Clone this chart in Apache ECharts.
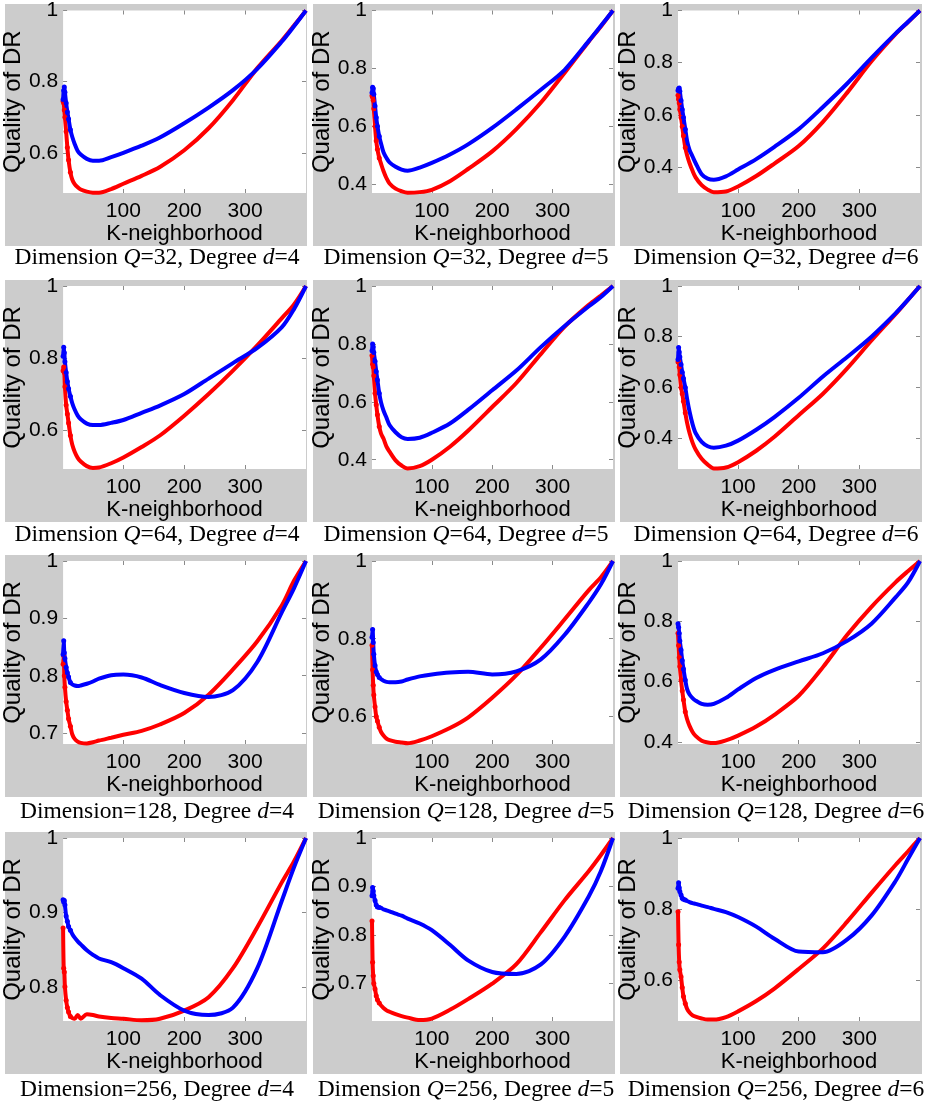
<!DOCTYPE html>
<html><head><meta charset="utf-8">
<script src="https://cdn.jsdelivr.net/npm/echarts@6/dist/echarts.min.js"></script>
<style>html,body{margin:0;padding:0;background:#fff}#c{width:936px;height:1103px}</style>
</head><body><div id="c"></div>
<script>
// K-neighborhood sample positions
const K = [1,2,3,4,6,8,10,13,16,20,25,30,40,50,60,80,100,130,160,200,240,280,320,360,380,400];

// Row 1: Q=32
const q32d4Red  = [0.745,0.74,0.72,0.70,0.66,0.615,0.58,0.545,0.525,0.512,0.503,0.497,0.491,0.488,0.488,0.498,0.513,0.535,0.56,0.607,0.669,0.748,0.838,0.915,0.957,1.0];
const q32d4Blue = [0.75,0.775,0.785,0.77,0.74,0.715,0.695,0.665,0.645,0.625,0.605,0.595,0.583,0.578,0.578,0.588,0.60,0.62,0.643,0.683,0.727,0.776,0.836,0.912,0.955,1.0];
const q32d5Red  = [0.705,0.70,0.69,0.66,0.60,0.55,0.52,0.49,0.47,0.445,0.42,0.402,0.384,0.375,0.37,0.372,0.38,0.41,0.452,0.513,0.59,0.68,0.785,0.893,0.945,1.0];
const q32d5Blue = [0.716,0.735,0.73,0.71,0.67,0.63,0.60,0.565,0.54,0.51,0.49,0.475,0.46,0.45,0.446,0.457,0.473,0.502,0.537,0.594,0.658,0.725,0.795,0.895,0.947,1.0];
const q32d6Red  = [0.675,0.66,0.645,0.62,0.59,0.555,0.52,0.475,0.445,0.415,0.385,0.36,0.33,0.313,0.303,0.306,0.325,0.365,0.413,0.48,0.573,0.685,0.805,0.91,0.955,1.0];
const q32d6Blue = [0.693,0.70,0.703,0.69,0.655,0.62,0.59,0.545,0.50,0.465,0.44,0.415,0.372,0.355,0.351,0.364,0.39,0.43,0.477,0.545,0.63,0.72,0.818,0.912,0.956,1.0];
// Row 2: Q=64
const q64d4Red  = [0.765,0.775,0.76,0.72,0.67,0.645,0.62,0.585,0.56,0.54,0.523,0.513,0.50,0.495,0.496,0.508,0.524,0.553,0.585,0.64,0.70,0.765,0.835,0.91,0.948,1.0];
const q64d4Blue = [0.805,0.83,0.815,0.79,0.76,0.735,0.715,0.694,0.675,0.657,0.64,0.63,0.618,0.614,0.614,0.62,0.628,0.648,0.668,0.70,0.743,0.786,0.828,0.885,0.935,1.0];
const q64d5Red  = [0.76,0.73,0.72,0.69,0.63,0.59,0.555,0.515,0.49,0.473,0.445,0.428,0.398,0.38,0.37,0.378,0.40,0.445,0.50,0.582,0.665,0.764,0.86,0.935,0.967,1.0];
const q64d5Blue = [0.776,0.80,0.79,0.77,0.74,0.705,0.675,0.63,0.598,0.57,0.545,0.52,0.495,0.478,0.472,0.476,0.493,0.525,0.572,0.64,0.708,0.788,0.862,0.93,0.962,1.0];
const q64d6Red  = [0.70,0.705,0.68,0.65,0.60,0.575,0.545,0.50,0.46,0.42,0.382,0.355,0.318,0.295,0.28,0.284,0.305,0.35,0.405,0.49,0.575,0.675,0.785,0.89,0.945,1.0];
const q64d6Blue = [0.71,0.757,0.74,0.72,0.69,0.66,0.635,0.60,0.555,0.505,0.455,0.42,0.385,0.368,0.362,0.37,0.39,0.433,0.483,0.559,0.643,0.72,0.80,0.893,0.945,1.0];
// Row 3: 128
const q128d4Red  = [0.82,0.835,0.80,0.78,0.755,0.74,0.725,0.712,0.698,0.69,0.685,0.683,0.682,0.684,0.687,0.692,0.697,0.704,0.715,0.735,0.767,0.811,0.86,0.922,0.965,1.0];
const q128d4Blue = [0.837,0.861,0.84,0.83,0.815,0.805,0.798,0.788,0.785,0.783,0.782,0.783,0.786,0.79,0.795,0.801,0.802,0.797,0.784,0.77,0.763,0.775,0.824,0.91,0.952,1.0];
const q128d5Red  = [0.783,0.72,0.68,0.655,0.625,0.60,0.588,0.572,0.56,0.551,0.543,0.539,0.535,0.533,0.531,0.538,0.549,0.57,0.597,0.648,0.706,0.776,0.85,0.925,0.958,1.0];
const q128d5Blue = [0.804,0.824,0.79,0.76,0.731,0.715,0.708,0.70,0.696,0.692,0.689,0.688,0.688,0.69,0.695,0.703,0.708,0.713,0.715,0.708,0.716,0.746,0.81,0.893,0.94,1.0];
const q128d6Red  = [0.76,0.72,0.68,0.65,0.605,0.57,0.54,0.50,0.475,0.453,0.433,0.42,0.404,0.398,0.396,0.405,0.421,0.451,0.49,0.553,0.648,0.755,0.848,0.93,0.966,1.0];
const q128d6Blue = [0.792,0.78,0.76,0.735,0.705,0.67,0.642,0.605,0.575,0.557,0.545,0.537,0.526,0.523,0.526,0.546,0.574,0.612,0.639,0.667,0.694,0.735,0.792,0.88,0.928,1.0];
// Row 4: 256
const q256d4Red  = [0.879,0.825,0.82,0.80,0.782,0.772,0.766,0.76,0.758,0.757,0.762,0.757,0.763,0.762,0.76,0.758,0.757,0.755,0.757,0.768,0.786,0.825,0.88,0.94,0.968,1.0];
const q256d4Blue = [0.917,0.914,0.916,0.91,0.895,0.888,0.881,0.876,0.871,0.866,0.861,0.857,0.849,0.843,0.838,0.833,0.825,0.811,0.789,0.768,0.762,0.772,0.825,0.915,0.96,1.0];
const q256d5Red  = [0.829,0.744,0.716,0.70,0.689,0.675,0.667,0.66,0.655,0.65,0.645,0.642,0.637,0.633,0.63,0.625,0.628,0.646,0.668,0.70,0.74,0.805,0.872,0.932,0.965,1.0];
const q256d5Blue = [0.881,0.898,0.891,0.881,0.871,0.862,0.858,0.857,0.856,0.853,0.851,0.849,0.844,0.84,0.834,0.824,0.81,0.78,0.748,0.724,0.72,0.739,0.797,0.88,0.932,1.0];
const q256d6Red  = [0.793,0.70,0.652,0.63,0.61,0.58,0.555,0.535,0.52,0.51,0.502,0.498,0.493,0.49,0.49,0.497,0.513,0.542,0.577,0.632,0.69,0.765,0.846,0.925,0.962,1.0];
const q256d6Blue = [0.859,0.874,0.86,0.85,0.84,0.831,0.828,0.826,0.823,0.82,0.817,0.815,0.81,0.806,0.801,0.792,0.778,0.751,0.717,0.681,0.679,0.715,0.782,0.88,0.94,1.0];

// Axis ranges and ticks
const yMins = [0.487,0.369,0.30, 0.492,0.368,0.278, 0.681,0.529,0.393, 0.754,0.623,0.486];
const yTicks = [
  [0.6,0.8,1],[0.4,0.6,0.8,1],[0.4,0.6,0.8,1],
  [0.6,0.8,1],[0.4,0.6,0.8,1],[0.4,0.6,0.8,1],
  [0.7,0.8,0.9,1],[0.6,0.8,1],[0.4,0.6,0.8,1],
  [0.8,0.9,1],[0.7,0.8,0.9,1],[0.6,0.8,1]
];
const xTicks = [100,200,300];
const xName = 'K-neighborhood';
const yName = 'Quality of DR';
const captions = [
  'Dimension {i|Q}=32, Degree {i|d}=4','Dimension {i|Q}=32, Degree {i|d}=5','Dimension {i|Q}=32, Degree {i|d}=6',
  'Dimension {i|Q}=64, Degree {i|d}=4','Dimension {i|Q}=64, Degree {i|d}=5','Dimension {i|Q}=64, Degree {i|d}=6',
  'Dimension=128, Degree {i|d}=4','Dimension {i|Q}=128, Degree {i|d}=5','Dimension {i|Q}=128, Degree {i|d}=6',
  'Dimension=256, Degree {i|d}=4','Dimension {i|Q}=256, Degree {i|d}=5','Dimension {i|Q}=256, Degree {i|d}=6'
];

const panels = [
  [q32d4Red,q32d4Blue],[q32d5Red,q32d5Blue],[q32d6Red,q32d6Blue],
  [q64d4Red,q64d4Blue],[q64d5Red,q64d5Blue],[q64d6Red,q64d6Blue],
  [q128d4Red,q128d4Blue],[q128d5Red,q128d5Blue],[q128d6Red,q128d6Blue],
  [q256d4Red,q256d4Blue],[q256d5Red,q256d5Blue],[q256d6Red,q256d6Blue]
];

// layout
const colX = [63,372,678], colW = [243,241,242];
const rowY = [10,286,561,838], rowH = 183;
const bgX = [5,313,620], bgW = 302;
const bgY = [4,280,555,832], bgH = 242;
const capX = [157,466,776], capY = [258,535,812,1090];

const SANS = '"Liberation Sans", Arial, Helvetica, sans-serif';
const SERIF = '"Liberation Serif", "Times New Roman", serif';

const grid=[], xAxis=[], yAxis=[], series=[], graphic=[];
const tick = (vals)=>({show:true, inside:true, length:4, customValues: vals, lineStyle:{color:'#8a8a8a', width:1}});

for (let i=0;i<12;i++){
  const r = Math.floor(i/3), c = i%3;
  graphic.push({type:'rect', z:-10, shape:{x:bgX[c], y:bgY[r], width:bgW, height:bgH}, style:{fill:'#cccccc'}});
  graphic.push({type:'text', z:5, x:capX[c], y:capY[r], style:{
    text: captions[i], fill:'#000', fontFamily: SERIF, fontSize: 23.5, align:'center', verticalAlign:'middle',
    rich:{ i:{fontStyle:'italic', fontFamily: SERIF, fontSize:23.5, fill:'#000'} }
  }});
  grid.push({left:colX[c], top:rowY[r], width:colW[c], height:rowH, show:true, backgroundColor:'#ffffff', borderWidth:0});
  xAxis.push({type:'value', gridIndex:i, min:1, max:400, position:'bottom',
    axisLine:{show:false}, axisTick:tick(xTicks), splitLine:{show:false},
    axisLabel:{customValues:xTicks, margin:8, fontFamily:SANS, fontSize:21, color:'#000'},
    name:xName, nameLocation:'middle', nameGap:29, nameTextStyle:{fontFamily:SANS, fontSize:22, color:'#000'}});
  xAxis.push({type:'value', gridIndex:i, min:1, max:400, position:'top',
    axisLine:{show:false}, axisTick:tick(xTicks), splitLine:{show:false}, axisLabel:{show:false}});
  yAxis.push({type:'value', gridIndex:i, min:yMins[i], max:1, position:'left',
    axisLine:{show:false}, axisTick:tick(yTicks[i]), splitLine:{show:false},
    axisLabel:{customValues:yTicks[i], margin:5, fontFamily:SANS, fontSize:21, color:'#000', formatter:(v)=>String(+(+v).toFixed(2))},
    name:yName, nameLocation:'middle', nameGap:37, nameRotate:90, nameTextStyle:{fontFamily:SANS, fontSize:24, color:'#000'}});
  yAxis.push({type:'value', gridIndex:i, min:yMins[i], max:1, position:'right',
    axisLine:{show:false}, axisTick:tick(yTicks[i]), splitLine:{show:false}, axisLabel:{show:false}});
  const [red, blue] = panels[i];
  const mk = (vals, color) => ({
    type:'line', xAxisIndex:2*i, yAxisIndex:2*i,
    data: K.map((k,j)=>[k, vals[j]]),
    smooth:0.3,
    showSymbol:true, symbol:'circle', symbolSize:(v)=> v[0] <= 13 ? 5 : 0,
    lineStyle:{color, width:4}, itemStyle:{color, borderWidth:0},
    clip:true, silent:true
  });
  series.push(mk(red, '#ff0000'));
  series.push(mk(blue, '#0000ff'));
}

const chart = echarts.init(document.getElementById('c'), null, {renderer:'canvas'});
chart.setOption({animation:false, backgroundColor:'#ffffff', grid, xAxis, yAxis, series, graphic});
</script>
</body></html>
